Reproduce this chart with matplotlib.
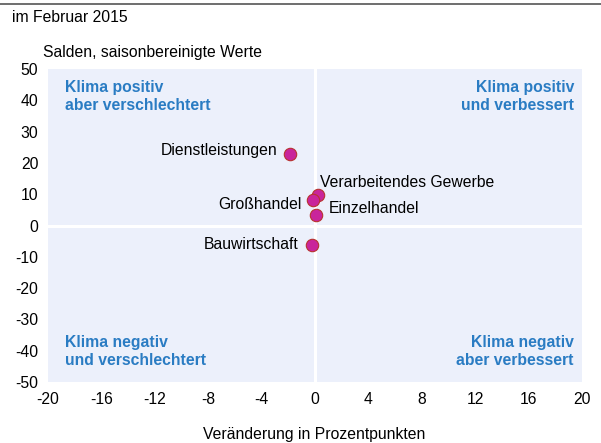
import matplotlib.pyplot as plt

plt.rcParams['font.family'] = ['Liberation Sans', 'DejaVu Sans']
plt.rcParams['axes.unicode_minus'] = False

# Sektoren im Februar 2015
sektoren = ['Dienstleistungen', 'Verarbeitendes Gewerbe', 'Großhandel', 'Einzelhandel', 'Bauwirtschaft']
veraenderung = [-1.9, 0.2, -0.15, 0.1, -0.2]   # x: Veränderung in Prozentpunkten
salden = [22.9, 9.7, 8.1, 3.5, -6.1]            # y: Salden
# label offsets in pixels (dx, dy) and alignment
versatz = [(-12, 3, 'right'), (2, 13, 'left'), (-11, -4, 'right'), (12, 6, 'left'), (-14, 0, 'right')]

x_ticks = [-20, -16, -12, -8, -4, 0, 4, 8, 12, 16, 20]
y_ticks = [50, 40, 30, 20, 10, 0, -10, -20, -30, -40, -50]

blau = '#2a7cc3'
bg = '#ecf0fb'
fs = 11.3

fig = plt.figure(figsize=(6.01, 4.43), dpi=100)
ax = fig.add_axes([48/601, 1-382/443, (582-48)/601, (382-69)/443])
ax.set_facecolor(bg)
ax.set_xlim(-20, 20)
ax.set_ylim(-50, 50)
ax.set_xticks(x_ticks)
ax.set_yticks(y_ticks)
ax.tick_params(length=0, labelsize=fs, pad=7)
for s in ax.spines.values():
    s.set_visible(False)
ax.axvline(0, color='white', lw=2.2, zorder=1)
ax.axhline(0, color='white', lw=2.2, zorder=1)

ax.scatter(veraenderung, salden, s=80, color='#c9259b', edgecolor='#b8322f', linewidth=0.8, zorder=3)
for name, xv, yv, (dx, dy, ha) in zip(sektoren, veraenderung, salden, versatz):
    ax.annotate(name, (xv, yv), xytext=(dx*0.72, dy*0.72), textcoords='offset points',
                ha=ha, va='center', fontsize=fs)

kw = dict(color=blau, fontsize=fs, fontweight='bold', linespacing=1.25)
ax.text(-18.7, 46.5, 'Klima positiv\naber verschlechtert', ha='left', va='top', **kw)
ax.text(19.4, 46.5, 'Klima positiv\nund verbessert', ha='right', va='top', **kw)
ax.text(-18.7, -35, 'Klima negativ\nund verschlechtert', ha='left', va='top', **kw)
ax.text(19.4, -35, 'Klima negativ\naber verbessert', ha='right', va='top', **kw)

fig.add_artist(plt.Line2D([0, 1], [1-4/443, 1-4/443], color='#555555', lw=1.2))
fig.text(12/601, 1-17/443, 'im Februar 2015', ha='left', va='center', fontsize=fs)
fig.text(43/601, 1-52/443, 'Salden, saisonbereinigte Werte', ha='left', va='center', fontsize=fs)
fig.text(314/601, 1-434/443, 'Veränderung in Prozentpunkten', ha='center', va='center', fontsize=fs)

fig.savefig('out.png', dpi=100)
